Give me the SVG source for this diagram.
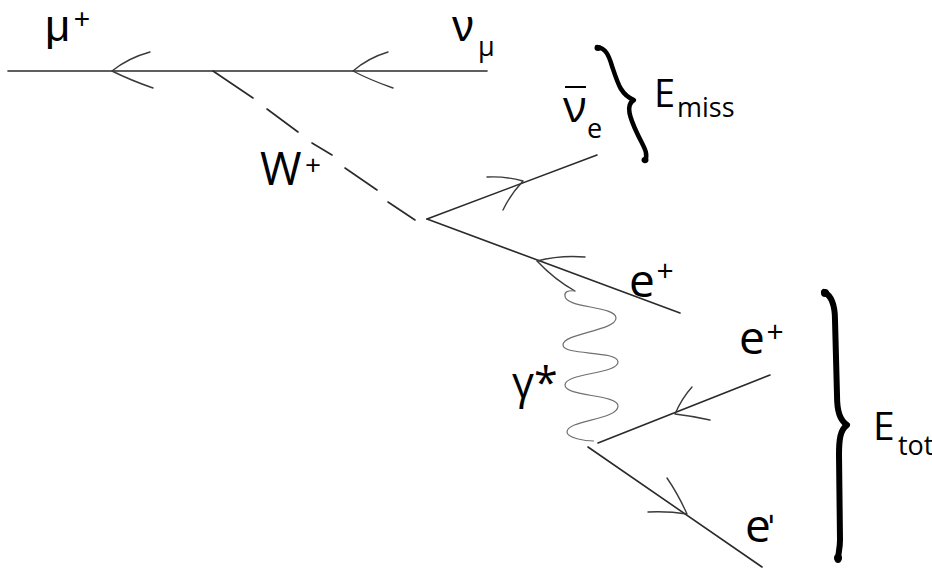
<svg xmlns="http://www.w3.org/2000/svg" width="932" height="573" viewBox="0 0 932 573">
<style>
.ln{fill:none;stroke:#2a2a2a;stroke-width:1.6;stroke-linecap:round}
.bar{fill:none;stroke:#3a3a3a;stroke-width:1.4;stroke-linecap:round}
.ph{fill:none;stroke:#707070;stroke-width:1.2}
.br{fill:none;stroke:#000;stroke-linecap:round;stroke-linejoin:round}
text{font-family:"Open Sans","Noto Sans","Liberation Sans",sans-serif;fill:#000}
.top{font-family:"Liberation Sans","Open Sans",sans-serif}
.sup{font-size:30px}
</style>
<rect width="932" height="573" fill="#fff"/>
<g id="connectors">
  <path class="ln" d="M8,71 L487,71"/>
  <path class="bar" d="M112,71 Q128,58 150,52 M112,71 Q130,80 153,88"/>
  <path class="bar" d="M353,71 Q368,58 388,52 M353,71 Q370,80 393,88"/>
  <path class="ln" d="M213,71 L253,98 M267,109 L298,132 M312,143 L332,155 M345,168 L377,190 M388,202 L415,220"/>
  <path class="ln" d="M427,219 L597,155"/>
  <path class="bar" d="M523,181 Q505,176 487,177 M523,181 Q510,195 503,210"/>
  <path class="ln" d="M427,219 L680,313"/>
  <path class="bar" d="M537,261 Q560,255 585,257 M537,261 Q555,280 575,291"/>
  <path class="ph" d="M575,291 C568,290 564,292 565,296 C565,308 616,306 616,318 C616,331 563,333 563,345 C563,356 618,350 618,362 C618,374 565,373 565,385 C565,397 618,394 618,406 C618,420 567,420 567,432 C567,438 585,441 594,441"/>
  <path class="ln" d="M598,443 L770,375"/>
  <path class="bar" d="M675,414 Q682,398 692,387 M675,414 Q692,416 710,420"/>
  <path class="ln" d="M588,447 L762,567"/>
  <path class="bar" d="M687,514 Q678,494 667,478 M687,514 Q668,511 648,512"/>
</g>
<g id="mu-plus">
  <text class="top" x="45" y="41" font-size="44">μ</text>
  <text class="top" x="82" y="28" font-size="28" text-anchor="middle">+</text>
</g>
<g id="nu-mu">
  <text class="top" x="452" y="41" font-size="44">ν</text>
  <text x="478" y="56" font-size="27">μ</text>
</g>
<g id="w-plus">
  <text x="260" y="185" font-size="45">W</text>
  <text x="313" y="174.5" font-size="28" text-anchor="middle">+</text>
</g>
<g id="nu-e-bar">
  <path d="M565,87 L586,87" stroke="#000" stroke-width="2"/>
  <text x="563" y="122" font-size="44">ν</text>
  <text x="587" y="138" font-size="27">e</text>
</g>
<g id="brace-miss">
  <path class="br" stroke-width="4.5" d="M597,47 C606,48 609,56 612,66 C618,84 621,95 634,100 C625,105 630,118 637,133 C643,146 649,153 645,161"/>
  <ellipse cx="598" cy="48" rx="3.5" ry="3"/>
  <ellipse cx="645" cy="160" rx="3.5" ry="3"/>
</g>
<g id="e-miss">
  <text x="654" y="107" font-size="38">E</text>
  <text x="677" y="117" font-size="27">miss</text>
</g>
<g id="e-plus-1">
  <text x="629" y="297" font-size="46">e</text>
  <text class="sup" x="665" y="281" text-anchor="middle">+</text>
</g>
<g id="gamma-star">
  <text x="512" y="398" font-size="43">γ*</text>
</g>
<g id="e-plus-2">
  <text x="739" y="354" font-size="46">e</text>
  <text class="sup" x="775" y="342" text-anchor="middle">+</text>
</g>
<g id="e-minus">
  <text x="745" y="542" font-size="46">e</text>
  <text transform="translate(762,519) rotate(90)" font-size="34" text-anchor="middle">-</text>
</g>
<g id="brace-tot">
  <path class="br" stroke-width="6" d="M824,292 C832,296 835,305 835,320 L837,395 C837,412 840,420 847,425 C840,430 839,440 839,455 L840,540 C840,549 838,554 838,560"/>
  <ellipse cx="825" cy="293" rx="4" ry="4"/>
  <ellipse cx="838" cy="558" rx="4" ry="4"/>
</g>
<g id="e-tot">
  <text x="873" y="440" font-size="39">E</text>
  <text x="898" y="455" font-size="27">tot</text>
</g>
</svg>
